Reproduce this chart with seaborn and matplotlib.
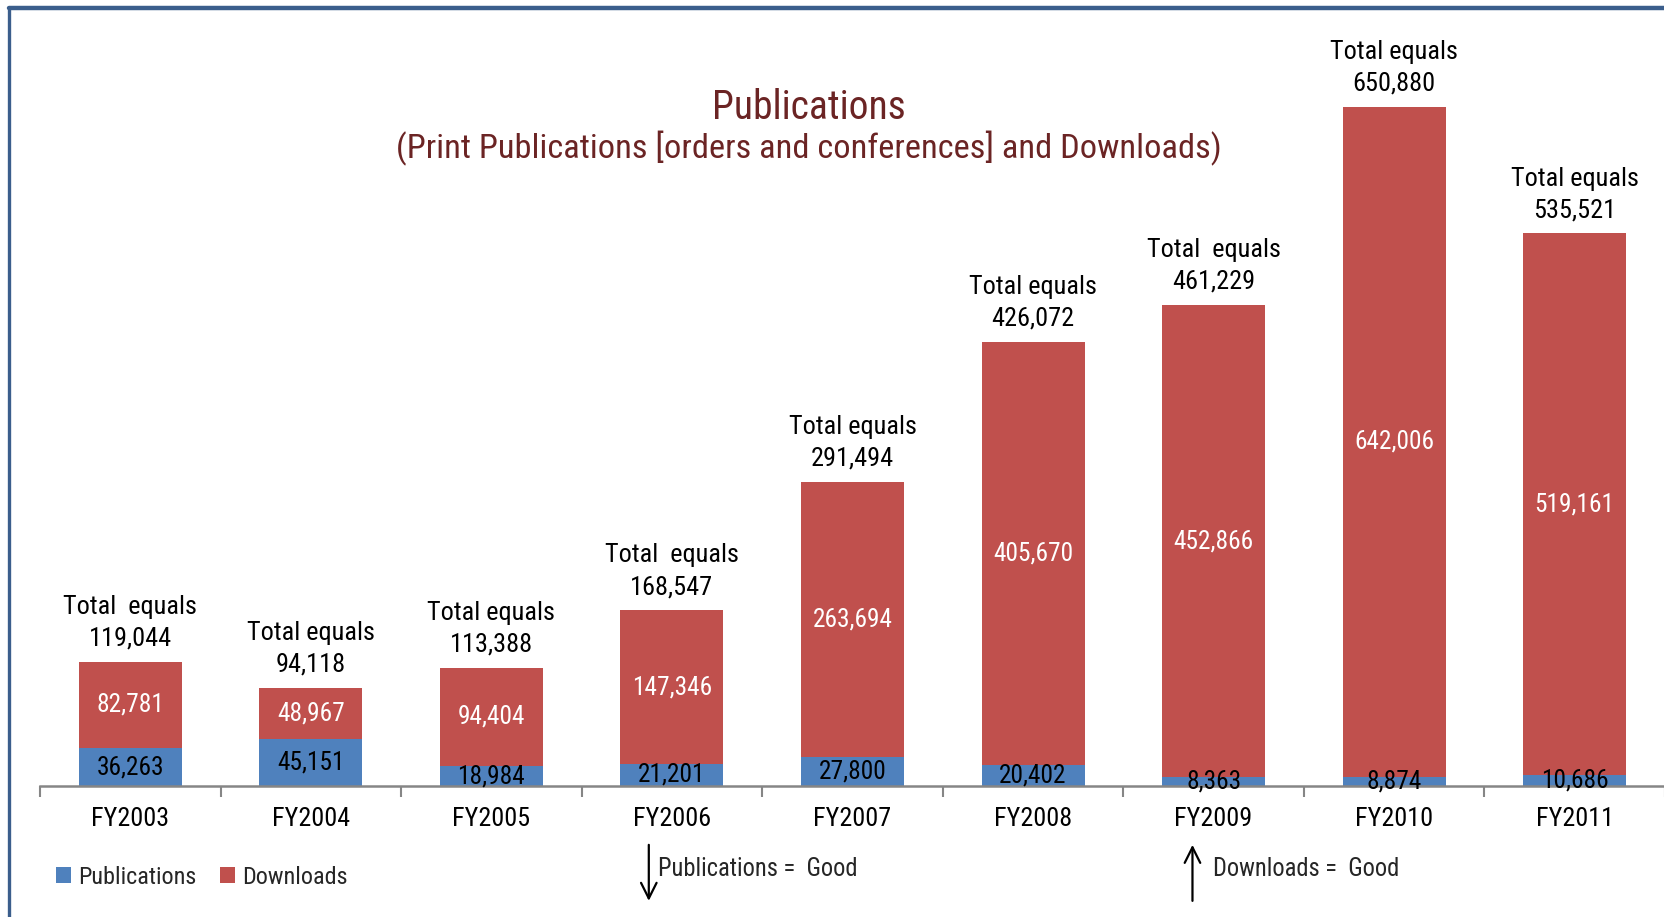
import numpy as np
import pandas as pd
import matplotlib
matplotlib.use("Agg")
import matplotlib.pyplot as plt
import seaborn as sns
from matplotlib import font_manager
from matplotlib.patches import FancyArrowPatch
from matplotlib.lines import Line2D

# ---------------- data ----------------
years = ["FY2003", "FY2004", "FY2005", "FY2006", "FY2007",
         "FY2008", "FY2009", "FY2010", "FY2011"]
publications = [36263, 45151, 18984, 21201, 27800, 20402, 8363, 8874, 10686]
downloads = [82781, 48967, 94404, 147346, 263694, 405670, 452866, 642006, 519161]
totals = [119044, 94118, 113388, 168547, 291494, 426072, 461229, 650880, 535521]
total_headers = ["Total  equals", "Total equals", "Total equals", "Total  equals",
                 "Total equals", "Total equals", "Total  equals", "Total equals",
                 "Total equals"]

BLUE = "#4F81BD"
RED = "#C0504D"
TITLE_C = "#6B2424"

names = {f.name for f in font_manager.fontManager.ttflist}
FONT = None
for cand in ["Liberation Sans Narrow", "Roboto Condensed", "Open Sans Condensed",
             "DejaVu Sans Condensed", "Roboto", "Liberation Sans"]:
    if cand in names:
        FONT = cand
        break
if FONT is None:
    FONT = "DejaVu Sans"

sns.set_theme(style="white")
plt.rcParams["font.family"] = [FONT, "DejaVu Sans"]
plt.rcParams["font.weight"] = "normal"

W, H = 1665, 917
S = W / 1568.0  # displayed -> full pixel scale


def fx(px):
    return px * S / W


def fy(py):
    return 1 - py * S / H


fig = plt.figure(figsize=(W / 100, H / 100), dpi=100)
renderer = fig.canvas.get_renderer()


def size_for(text, target_px_disp):
    t = fig.text(0, 0, text, fontsize=10)
    w = t.get_window_extent(renderer).width
    t.remove()
    return 10 * target_px_disp * S / w


FS_TOTAL = size_for("Total equals", 120)
FS_NUM = size_for("82,781", 63)
FS_TICK = size_for("FY2003", 73)
FS_TITLE = size_for("Publications", 182)
FS_SUB = size_for("(Print Publications [orders and conferences] and Downloads)", 773)
FS_LEG = size_for("Publications", 111)
FS_NOTE = size_for("Publications =  Good", 188)

ax = fig.add_axes([40 / W, 131 / H, 1 - 40 / W, 786 / H])

df = pd.DataFrame({"year": years, "pub": publications, "dl": downloads})
df["stack"] = df["pub"] + df["dl"]

sns.barplot(data=df, x="year", y="stack", color=RED, width=0.57, saturation=1,
            errorbar=None, linewidth=0, ax=ax, label="Downloads")
sns.barplot(data=df, x="year", y="pub", color=BLUE, width=0.57, saturation=1,
            errorbar=None, linewidth=0, ax=ax, label="Publications")

ax.set_xlim(-0.5, 8.5)
ax.set_ylim(0, 753450)
ax.set_yticks([])
ax.set_xlabel("")
ax.set_ylabel("")
for s in ["top", "left", "right"]:
    ax.spines[s].set_visible(False)
ax.spines["bottom"].set_color("#868686")
ax.spines["bottom"].set_linewidth(1.8)
ax.tick_params(axis="x", which="major", length=0, pad=15, labelsize=FS_TICK,
               labelcolor="black")
for lab in ax.get_xticklabels():
    lab.set_fontweight("normal")
ax.set_xticks(np.arange(-0.5, 9, 1), minor=True)
ax.tick_params(axis="x", which="minor", length=8, width=1.5, color="#868686",
               direction="out", bottom=True)

for i in range(len(years)):
    p = df["pub"][i]
    d = df["dl"][i]
    ax.text(i, p / 2, f"{p:,}", ha="center", va="center", fontsize=FS_NUM,
            color="black")
    ax.text(i, p + d / 2, f"{d:,}", ha="center", va="center", fontsize=FS_NUM,
            color="white")
    ax.annotate(f"{total_headers[i]}\n{totals[i]:,}", xy=(i, p + d),
                xytext=(0, 8), textcoords="offset points", ha="center",
                va="bottom", fontsize=FS_TOTAL, linespacing=1.4, color="black")

# titles
fig.text(fx(762), fy(101), "Publications", ha="center", va="center",
         color=TITLE_C, fontsize=FS_TITLE)
fig.text(fx(762), fy(140),
         "(Print Publications [orders and conferences] and Downloads)",
         ha="center", va="center", color=TITLE_C, fontsize=FS_SUB)

# legend
handles, labels = ax.get_legend_handles_labels()
order = [labels.index("Publications"), labels.index("Downloads")]
ax.legend([handles[k] for k in order], [labels[k] for k in order],
          loc="center left", bbox_to_anchor=(fx(53), fy(826)),
          bbox_transform=fig.transFigure, frameon=False, ncol=2,
          fontsize=FS_LEG, handlelength=0.6, handleheight=0.6,
          handletextpad=0.3, columnspacing=1.0, borderpad=0, borderaxespad=0)

# arrows and notes
fig.add_artist(FancyArrowPatch((fx(611), fy(793)), (fx(611), fy(851)),
                               transform=fig.transFigure, arrowstyle="->",
                               mutation_scale=28, lw=1.6, color="black"))
fig.text(fx(620), fy(818), "Publications =  Good", ha="left", va="center",
         fontsize=FS_NOTE)
fig.add_artist(FancyArrowPatch((fx(1123), fy(851)), (fx(1123), fy(793)),
                               transform=fig.transFigure, arrowstyle="->",
                               mutation_scale=28, lw=1.6, color="black"))
fig.text(fx(1142), fy(818), "Downloads =  Good", ha="left", va="center",
         fontsize=FS_NOTE)

# outer frame (top and left edges visible)
fig.add_artist(Line2D([9 / W, 1.01], [1 - 8 / H, 1 - 8 / H],
                      transform=fig.transFigure, color="#3B5E8C", lw=3.2))
fig.add_artist(Line2D([9 / W, 9 / W], [-0.01, 1 - 8 / H],
                      transform=fig.transFigure, color="#3B5E8C", lw=2.4))

fig.savefig("out.png", dpi=100)
